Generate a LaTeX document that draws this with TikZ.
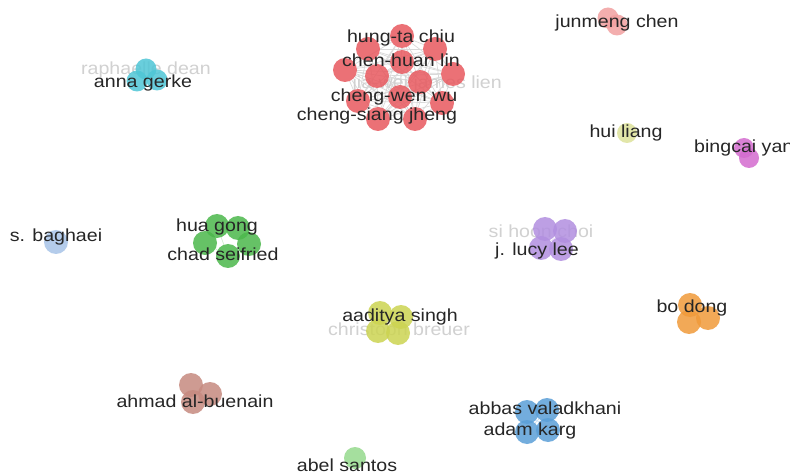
\documentclass[tikz,border=0pt]{standalone}
\usepackage{fontspec}
\newfontfamily\labfont{Liberation Sans}[FakeStretch=1.12]
\pgfdeclarelayer{bg}
\pgfdeclarelayer{links}
\pgfsetlayers{bg,links,main}
\definecolor{vred}{HTML}{E8595F}
\definecolor{vcyan}{HTML}{4FC6D6}
\definecolor{vpink}{HTML}{F2A0A0}
\definecolor{vlime}{HTML}{DDE29A}
\definecolor{vmagenta}{HTML}{D46CCF}
\definecolor{vsky}{HTML}{A8C4E8}
\definecolor{vgreen}{HTML}{4CB84C}
\definecolor{vpurple}{HTML}{B28FE0}
\definecolor{vyellow}{HTML}{CCD452}
\definecolor{vorange}{HTML}{F09A3A}
\definecolor{vbrown}{HTML}{C68A80}
\definecolor{vblue}{HTML}{5B9FD8}
\definecolor{vmint}{HTML}{96DA8E}
\tikzset{
  bub/.style={circle, inner sep=0pt, minimum size=24pt, fill opacity=0.85, draw=none},
  lab/.style={font=\labfont\fontsize{17.5}{20}\selectfont, text=black!85, inner sep=0pt, anchor=base},
  faint/.style={lab, text=black!18},
  link/.style={line width=0.7pt, draw=#1}
}
\begin{document}
\begin{tikzpicture}[x=1pt,y=-1pt]
  \useasboundingbox (0,0) rectangle (790,473);
  \begin{pgfonlayer}{bg}
    \fill[white] (0,0) rectangle (790,473);
  \end{pgfonlayer}

  % faint labels sit under the bubbles
  \node[faint, anchor=base east] (tjl) at (502,89) {jia-wei james lien};
  \node[faint] (trd) at (146,75) {raphaelle dean};
  \node[faint] (tsc) at (541,237) {si hoon choi};
  \node[faint] (tcb) at (399,335) {christoph breuer};

  % red group
  \foreach \p [count=\i] in {(402,36),(368,49),(435,49),(402,62),(345,70),(377,76),(420,82),(453,74),(358,101),(400,97),(442,103),(378,119),(415,119)}{
    \node[bub, fill=vred] (r\i) at \p {};
  }
  \begin{pgfonlayer}{links}
    \foreach \i in {1,...,12}{
      \pgfmathtruncatemacro\k{\i+1}
      \foreach \j in {\k,...,13}{
        \draw[link=gray!30] (r\i) -- (r\j);
      }
    }
  \end{pgfonlayer}

  % small groups
  \foreach \p [count=\i] in {(146,69),(137,81),(157,80)}{
    \node[bub, minimum size=21pt, fill=vcyan] (cy\i) at \p {};
  }
  \foreach \p [count=\i] in {(608,18),(617,25)}{
    \node[bub, minimum size=21pt, fill=vpink] (pk\i) at \p {};
  }
  \node[bub, minimum size=20pt, fill=vlime] (li1) at (627,133) {};
  \foreach \p [count=\i] in {(744,148),(749,158)}{
    \node[bub, minimum size=20pt, fill=vmagenta] (mg\i) at \p {};
  }
  \node[bub, minimum size=24pt, fill=vsky] (sk1) at (56,242) {};
  \foreach \p [count=\i] in {(217,226),(238,228),(205,243),(249,244),(228,256)}{
    \node[bub, fill=vgreen] (gr\i) at \p {};
  }
  \foreach \p [count=\i] in {(545,229),(565,231),(541,248),(561,249)}{
    \node[bub, fill=vpurple] (pu\i) at \p {};
  }
  \foreach \p [count=\i] in {(380,313),(401,317),(378,331),(398,333)}{
    \node[bub, fill=vyellow] (ye\i) at \p {};
  }
  \foreach \p [count=\i] in {(690,305),(689,322),(708,318)}{
    \node[bub, fill=vorange] (or\i) at \p {};
  }
  \foreach \p [count=\i] in {(191,385),(210,394),(193,402)}{
    \node[bub, fill=vbrown] (br\i) at \p {};
  }
  \foreach \p [count=\i] in {(527,412),(547,410),(527,432),(548,430)}{
    \node[bub, fill=vblue] (bl\i) at \p {};
  }
  \node[bub, minimum size=22pt, fill=vmint] (mi1) at (355,458) {};

  \begin{pgfonlayer}{links}
    \foreach \a/\b in {1/2,1/3,2/4,3/5,4/5,1/5,2/3}{
      \draw[link=white!75!vgreen] (gr\a) -- (gr\b);
    }
    \foreach \a/\b in {1/4,2/3,1/2,3/4}{
      \draw[link=white!70!vpurple] (pu\a) -- (pu\b);
      \draw[link=white!70!vyellow] (ye\a) -- (ye\b);
      \draw[link=white!70!vblue] (bl\a) -- (bl\b);
    }
  \end{pgfonlayer}

  % labels
  \node[lab] (thc) at (401,43) {hung-ta chiu};
  \node[lab] (tch) at (401,67) {chen-huan lin};
  \node[lab] (tcw) at (394,102) {cheng-wen wu};
  \node[lab] (tcs) at (377,121) {cheng-siang jheng};
  \node[lab] (tag) at (143,88) {anna gerke};
  \node[lab] (tjc) at (617,28) {junmeng chen};
  \node[lab] (thl) at (626,138) {hui liang};
  \node[lab, anchor=base west] (tby) at (694,153) {bingcai yan};
  \node[lab] (tsb) at (56,242) {s. baghaei};
  \node[lab] (thg) at (217,232) {hua gong};
  \node[lab] (tcf) at (223,261) {chad seifried};
  \node[lab] (tjl2) at (537,255) {j. lucy lee};
  \node[lab] (tas) at (400,321) {aaditya singh};
  \node[lab] (tbd) at (692,312) {bo dong};
  \node[lab] (tab) at (195,407) {ahmad al-buenain};
  \node[lab] (tav) at (545,414) {abbas valadkhani};
  \node[lab] (tak) at (530,435) {adam karg};
  \node[lab] (tas2) at (347,471) {abel santos};
\end{tikzpicture}
\end{document}
